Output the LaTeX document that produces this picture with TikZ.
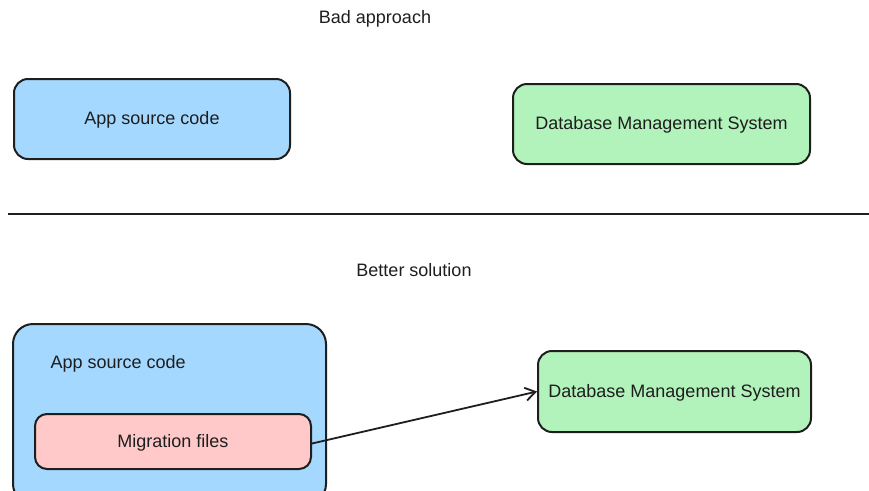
\documentclass[tikz,border=0pt]{standalone}
\usepackage{fontspec}
\setmainfont{Liberation Sans}
\usetikzlibrary{arrows.meta}
\definecolor{ink}{HTML}{1E1E1E}
\definecolor{appblue}{HTML}{A5D8FF}
\definecolor{dbgreen}{HTML}{B2F2BB}
\definecolor{migpink}{HTML}{FFC9C9}
\tikzset{
  box/.style={draw=ink, line width=2pt, rounded corners=14pt, inner sep=0pt,
              font=\fontsize{18}{21}\selectfont, text=ink,
              text height=13pt, text depth=2pt},
  title/.style={font=\fontsize{18}{21}\selectfont, text=ink},
  flow/.style={draw=ink, line width=1.8pt, -{Straight Barb[length=10pt,width=13pt,line width=1.8pt]}}
}
\begin{document}
\begin{tikzpicture}[x=1pt,y=-1pt]
  \useasboundingbox (0,0) rectangle (869,490);
  \clip (0,0) rectangle (869,490);

  % upper half: code and database kept apart
  \node[title] (bad) at (375,19) {Bad approach};
  \node[box, fill=appblue, minimum width=276pt, minimum height=80pt] (app1) at (152,119) {App source code};
  \node[box, fill=dbgreen, minimum width=297pt, minimum height=80pt] (db1) at (661.5,124) {Database Management System};

  % divider
  \coordinate (divL) at (8,214);
  \coordinate (divR) at (869,214);
  \draw[ink, line width=2pt] (divL) -- (divR);

  % lower half: migrations live with the code
  \node[title] (better) at (414,270) {Better solution};
  \node[box, fill=appblue, rounded corners=20pt, minimum width=313pt, minimum height=180pt] (app2) at (169.5,414) {};
  \node[title, anchor=west] (app2lbl) at (47,364) {App source code};
  \node[box, fill=migpink, rounded corners=12pt, minimum width=276pt, minimum height=55pt] (mig) at (173,441.5) {Migration files};
  \node[box, fill=dbgreen, minimum width=273pt, minimum height=81pt] (db2) at (674.5,391.5) {Database Management System};

  \draw[flow] (mig.east) ++(0,2) coordinate (migout) -- (db2.west);
\end{tikzpicture}
\end{document}
